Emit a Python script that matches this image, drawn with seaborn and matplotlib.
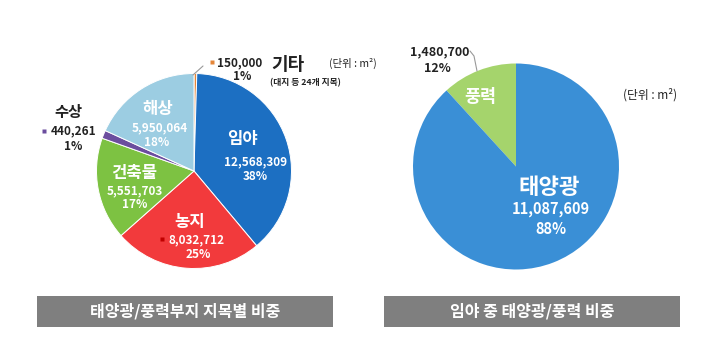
import matplotlib
matplotlib.use("Agg")
import matplotlib.pyplot as plt
import seaborn as sns
from matplotlib.patches import Rectangle

sns.set_theme(style="white")
plt.rcParams['font.family'] = ['Noto Sans CJK KR', 'DejaVu Sans']

# Data
land_labels = ["기타", "임야", "농지", "건축물", "수상", "해상"]
land_values = [150000, 12568309, 8032712, 5551703, 440261, 5950064]
land_pcts = ["1%", "38%", "25%", "17%", "1%", "18%"]
land_colors = ["#e5873a", "#1c6fc2", "#f23a3c", "#7dc242", "#6b4d9e", "#9ccde2"]

forest_labels = ["풍력", "태양광"]
forest_values = [1480700, 11087609]
forest_pcts = ["12%", "88%"]
forest_colors = ["#a5d46c", "#3a8fd6"]

titles = ["태양광/풍력부지 지목별 비중", "임야 중 태양광/풍력 비중"]

W, H = 703, 344
fig = plt.figure(figsize=(W / 100, H / 100), dpi=100)
ax = fig.add_axes([0, 0, 1, 1])

def Y(y):
    return H - y

ax.pie(land_values, colors=land_colors, startangle=90, counterclock=False,
       center=(194, Y(171)), radius=97.5,
       wedgeprops=dict(edgecolor="white", linewidth=0.7))
ax.pie(forest_values, colors=forest_colors, startangle=90, counterclock=True,
       center=(516, Y(166.5)), radius=103,
       wedgeprops=dict(edgecolor="none", linewidth=0))

ax.set_xlim(0, W)
ax.set_ylim(0, H)
ax.set_aspect('auto')
ax.axis('off')

def fmt(v):
    return f"{v:,}"

def txt(x, y, s, size, color="white", weight="bold", ha="center"):
    ax.text(x, Y(y), s, fontsize=size, color=color, fontweight=weight,
            ha=ha, va="center")

DARK = "#222222"

# Left pie inner labels: (label pos, number pos, pct pos)
inside = {
    1: ((243, 139), (256, 162), (255, 177)),
    2: ((190, 222), (197, 240), (198, 255)),
    3: ((134, 173), (135, 191), (135, 205)),
    5: ((158, 109), (160, 128), (157, 143)),
}
for i, (lp, npos, ppos) in inside.items():
    txt(*lp, land_labels[i], 12)
    txt(*npos, fmt(land_values[i]), 8.5)
    txt(*ppos, land_pcts[i], 8.5)
# red marker for 농지
ax.plot([162], [Y(239)], marker="s", ms=3, color="#c00000", mec="none")

# 수상 outside
txt(68, 112, land_labels[4], 11, color=DARK)
ax.plot([44], [Y(131)], marker="s", ms=3.5, color=land_colors[4], mec="none")
txt(74, 131, fmt(land_values[4]), 8.5, color=DARK)
txt(73, 147, land_pcts[4], 8.5, color=DARK)

# 기타 outside
ax.plot([212], [Y(62)], marker="s", ms=3.5, color=land_colors[0], mec="none")
ax.plot([193, 203], [Y(75), Y(66)], color="#999999", lw=0.8)
txt(240, 63, fmt(land_values[0]), 8.5, color=DARK)
txt(242, 77, land_pcts[0], 8.5, color=DARK)
txt(288, 64, land_labels[0], 13, color=DARK)
txt(305, 83, "(대지 등 24개 지목)", 6.3, color=DARK)
txt(353, 63, "(단위 : m²)", 7.5, color=DARK, weight="normal")

# Right pie labels
txt(480, 97, forest_labels[0], 12.5)
txt(549, 187, forest_labels[1], 16)
txt(551, 209, fmt(forest_values[1]), 10.5)
txt(551, 229, forest_pcts[1], 10.5)
txt(440, 52, fmt(forest_values[0]), 9, color=DARK)
txt(437, 68, forest_pcts[0], 9, color=DARK)
ax.plot([470, 474, 477], [Y(51), Y(56), Y(71)], color="#999999", lw=0.8)
txt(650, 95, "(단위 : m²)", 8.5, color=DARK, weight="normal")

# Title boxes
for (x0, x1), t in zip([(37, 333), (384, 680)], titles):
    ax.add_patch(Rectangle((x0, Y(327)), x1 - x0, 31, facecolor="#7f7f7f",
                           edgecolor="none"))
    txt((x0 + x1) / 2, 311, t, 11.5)

fig.savefig("out.png", dpi=100)
